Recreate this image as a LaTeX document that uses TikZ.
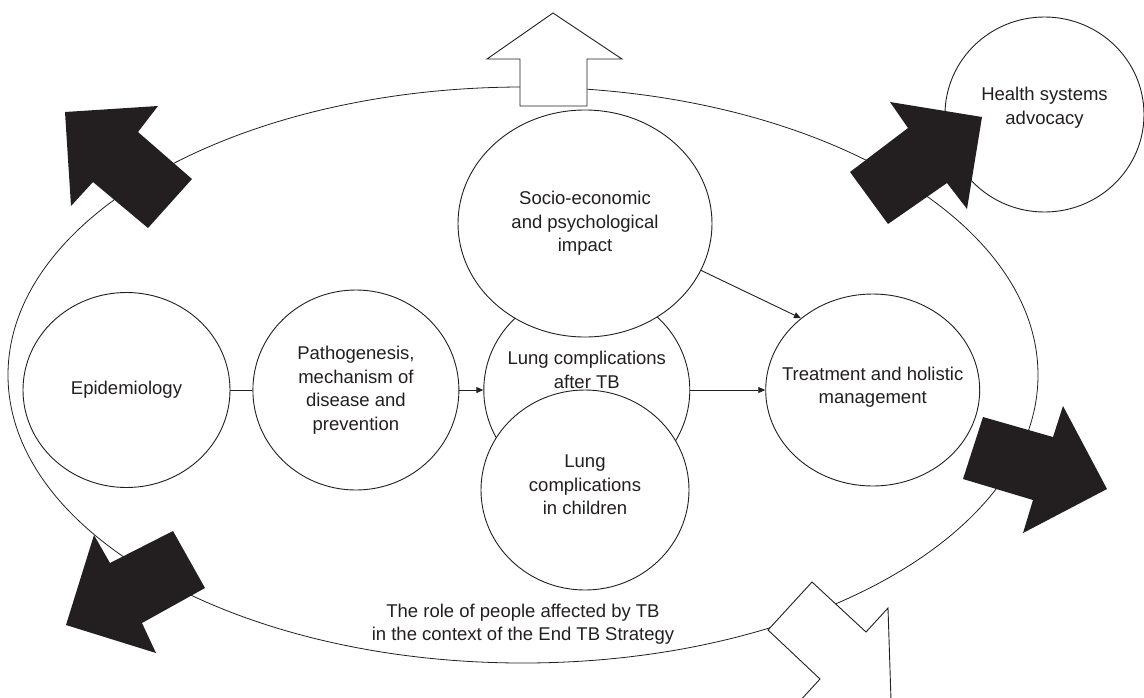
\documentclass[tikz,border=0pt]{standalone}
\usepackage{fontspec}
\setmainfont{Liberation Sans}
\usetikzlibrary{arrows.meta,positioning,shapes.geometric}
\definecolor{inkblack}{HTML}{231F20}

\begin{document}
\begin{tikzpicture}[
  x=1pt, y=-1pt,
  font=\fontsize{18.5}{23.5}\selectfont,
  topic/.style={ellipse, draw=inkblack, line width=0.9pt, fill=white, align=center,
                inner sep=0pt, text=inkblack},
  lbl/.style={align=center, text=inkblack},
  ring/.style={draw=inkblack, line width=0.8pt},
  arr/.style={-{Triangle[length=7pt,width=6pt]}, draw=inkblack, line width=0.9pt},
  link/.style={draw=inkblack, line width=0.9pt},
  solid arrow/.style={fill=inkblack, draw=none},
  open arrow/.style={fill=white, draw=inkblack, line width=0.9pt, line join=miter},
]
\useasboundingbox (0,0) rectangle (1144,697);
\clip (0,0) rectangle (1144,697);

% ------------------------------------------------------------- outer cycle
\draw[ring] (523,375) ellipse [x radius=515pt, y radius=288pt];
\node[lbl] (people) at (523,624)
     {The role of people affected by TB\\in the context of the End TB Strategy};

% ------------------------------------------------------------ topic circles
\node[topic, minimum width=207pt, minimum height=195pt] (epi) at (126.5,390) {Epidemiology};
\node[topic, minimum width=206pt, minimum height=200pt, right=22pt of epi] (patho)
     {Pathogenesis,\\mechanism of\\disease and\\prevention};
\node[topic, minimum width=206pt, minimum height=200pt, right=24pt of patho,
      label={[lbl, yshift=20pt]center:Lung complications\\after TB}] (lungtb) {};
\node[topic, minimum width=208pt, minimum height=200pt, 
      label={[lbl, yshift=5pt]center:Lung\\complications\\in children}] (kids) at (585,490) {};
\node[topic, minimum width=254pt, minimum height=227pt] (socio) at (585,223.5)
     {Socio-economic\\and psychological\\impact};
\node[topic, minimum width=214pt, minimum height=192pt, right=75pt of lungtb,
      label={[lbl, yshift=3pt]center:Treatment and holistic\\management}] (treat) {};
\node[topic, minimum width=199pt, minimum height=195pt, 
      label={[lbl, yshift=7pt]center:Health systems\\advocacy}] (health) at (1044.5,114.5) {};

\draw[link] (epi) -- (patho);
\draw[arr] (patho) -- (lungtb);
\draw[arr] (lungtb) -- (treat);
\draw[arr] (socio.-22) -- (treat.135);

% ------------------------------------------------------------- block arrows
\fill[solid arrow] (65,112) -- (158,106) -- (138,132) -- (192,179) -- (148,228)
      -- (93,182) -- (71,206) -- cycle;
\fill[solid arrow] (982,117) -- (890,102) -- (908,128) -- (850,172) -- (888,224)
      -- (947,183) -- (967,209) -- cycle;
\fill[solid arrow] (1107,489) -- (1063,406) -- (1053,437) -- (983,417) -- (963,479)
      -- (1033,500) -- (1023,533) -- cycle;
\fill[solid arrow] (66,625) -- (94,535) -- (110,563) -- (173,531) -- (205,588)
      -- (142,623) -- (156,653) -- cycle;
\draw[open arrow] (553,13) -- (622,59) -- (587,59) -- (587,106) -- (520,106)
      -- (520,59) -- (487,59) -- cycle;
\draw[open arrow] (891,700) -- (888,608) -- (866,632) -- (812,582) -- (768,630)
      -- (820,679) -- (798,703) -- cycle;
\end{tikzpicture}
\end{document}
